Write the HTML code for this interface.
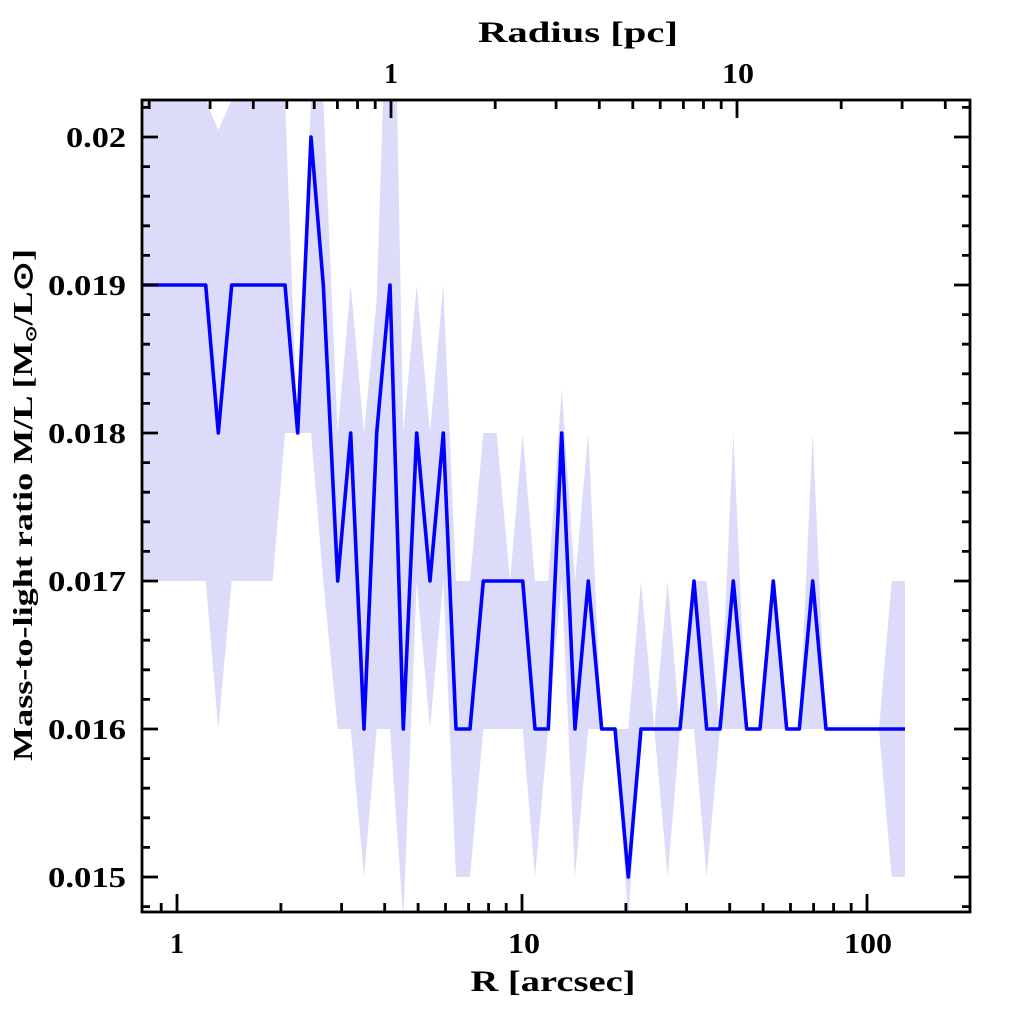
<!DOCTYPE html>
<html><head><meta charset="utf-8"><style>html,body{margin:0;padding:0;background:#fff}svg{display:block}</style></head>
<body>
<svg width="1024" height="1024" viewBox="0 0 1024 1024" xmlns="http://www.w3.org/2000/svg" font-family="'Liberation Serif', serif" font-weight="bold">
<defs><clipPath id="c"><rect x="142" y="100" width="828" height="812"/></clipPath></defs>
<g clip-path="url(#c)">
<polygon fill="#dcdcfa" points="
142,100 205.7,100 218.3,130 231.7,100 285,100 297.7,433 311,100 323.3,100 337.7,433 350.7,285 364,433 376.7,300 383,100 397,100 403.3,433 416.7,285 430,433 443.3,285 456,581 470,581 483.3,433 496.7,433 510,581 522.7,433 535,581 548.3,581 561.7,389 575,581 588.3,433 601.7,729 615,729 628.3,729 641,581 654.3,729 667.7,581 680,729 694,581 706.7,581 720,729 733.3,433 746.7,729 760,729 773.3,581 786.7,729 799.3,729 812.7,433 826,729 879,729 891.7,581 905,581
905,877 891.7,877 879,729 826,729 720,729 706.7,877 694,729 680,729 667.7,877 654.3,729 641,729 628.3,920 615,729 588.3,729 575,877 561.7,581 548.3,729 535,877 522.7,729 483.3,729 470,877 456,877 443.3,581 430,729 416.7,581 403.3,920 390,729 376.7,729 364,877 350.7,729 337.7,729 323.3,581 311,433 285,433 272.7,581 231.7,581 218.3,729 205.7,581 142,581"/>
<polyline fill="none" stroke="#0000ff" stroke-width="3.6" stroke-linejoin="round" points="
142,285 205.7,285 218.3,433 231.7,285 285,285 297.7,433 311,137 323.3,285 337.7,581 350.7,433 364,729 376.7,433 390,285 403.3,729 416.7,433 430,581 443.3,433 456,729 470,729 483.3,581 522.7,581 535,729 548.3,729 561.7,433 575,729 588.3,581 601.7,729 615,729 628.3,877 641,729 680,729 694,581 706.7,729 720,729 733.3,581 746.7,729 760,729 773.3,581 786.7,729 799.3,729 812.7,581 826,729 905,729"/>
</g>
<g stroke="#000" stroke-width="2.8" fill="none">
<rect x="142" y="100" width="828" height="812"/>
<path d="M142,107.4h8M142,166.6h8M142,196.2h8M142,225.8h8M142,255.4h8M142,314.6h8M142,344.2h8M142,373.8h8M142,403.4h8M142,462.6h8M142,492.2h8M142,521.8h8M142,551.4h8M142,610.6h8M142,640.2h8M142,669.8h8M142,699.4h8M142,758.6h8M142,788.2h8M142,817.8h8M142,847.4h8M142,906.6h8
M970,107.4h-8M970,166.6h-8M970,196.2h-8M970,225.8h-8M970,255.4h-8M970,314.6h-8M970,344.2h-8M970,373.8h-8M970,403.4h-8M970,462.6h-8M970,492.2h-8M970,521.8h-8M970,551.4h-8M970,610.6h-8M970,640.2h-8M970,669.8h-8M970,699.4h-8M970,758.6h-8M970,788.2h-8M970,817.8h-8M970,847.4h-8M970,906.6h-8
M142,137h16M142,285h16M142,433h16M142,581h16M142,729h16M142,877h16
M970,137h-16M970,285h-16M970,433h-16M970,581h-16M970,729h-16M970,877h-16
M161.2,912v-9M280.9,912v-9M341.6,912v-9M384.7,912v-9M418.1,912v-9M445.5,912v-9M468.6,912v-9M488.6,912v-9M506.2,912v-9M625.9,912v-9M686.6,912v-9M729.7,912v-9M763.1,912v-9M790.5,912v-9M813.6,912v-9M833.6,912v-9M851.2,912v-9
M177,912v-18M522,912v-18M867,912v-18
M149.2,100v9M210.1,100v9M253.3,100v9M286.8,100v9M314.2,100v9M337.4,100v9M357.5,100v9M375.2,100v9M495.2,100v9M556.1,100v9M599.3,100v9M632.8,100v9M660.2,100v9M683.4,100v9M703.5,100v9M721.2,100v9M841.2,100v9M902.1,100v9M945.3,100v9
M391,100v18M737,100v18"/>
</g>
<g font-size="28" fill="#000" text-anchor="end" lengthAdjust="spacingAndGlyphs">
<text x="126" y="147" textLength="60" lengthAdjust="spacingAndGlyphs">0.02</text>
<text x="126" y="295" textLength="78" lengthAdjust="spacingAndGlyphs">0.019</text>
<text x="126" y="443" textLength="78" lengthAdjust="spacingAndGlyphs">0.018</text>
<text x="126" y="591" textLength="78" lengthAdjust="spacingAndGlyphs">0.017</text>
<text x="126" y="739" textLength="78" lengthAdjust="spacingAndGlyphs">0.016</text>
<text x="126" y="887" textLength="78" lengthAdjust="spacingAndGlyphs">0.015</text>
</g>
<g font-size="28" fill="#000" text-anchor="middle">
<text x="177" y="953">1</text>
<text x="524" y="953" textLength="32" lengthAdjust="spacingAndGlyphs">10</text>
<text x="868" y="953" textLength="48" lengthAdjust="spacingAndGlyphs">100</text>
<text x="391" y="83">1</text>
<text x="738" y="83" textLength="32" lengthAdjust="spacingAndGlyphs">10</text>
<text x="553" y="991" font-size="30" textLength="165" lengthAdjust="spacingAndGlyphs">R [arcsec]</text>
<text x="578" y="42" font-size="30" textLength="200" lengthAdjust="spacingAndGlyphs">Radius [pc]</text>
<text transform="translate(32,505) rotate(-90)" font-size="27" textLength="512" lengthAdjust="spacingAndGlyphs">Mass-to-light ratio M/L [M<tspan font-size="15" dy="4">⊙</tspan><tspan dy="-4">/L⊙]</tspan></text>
</g>
</svg>
</body></html>
